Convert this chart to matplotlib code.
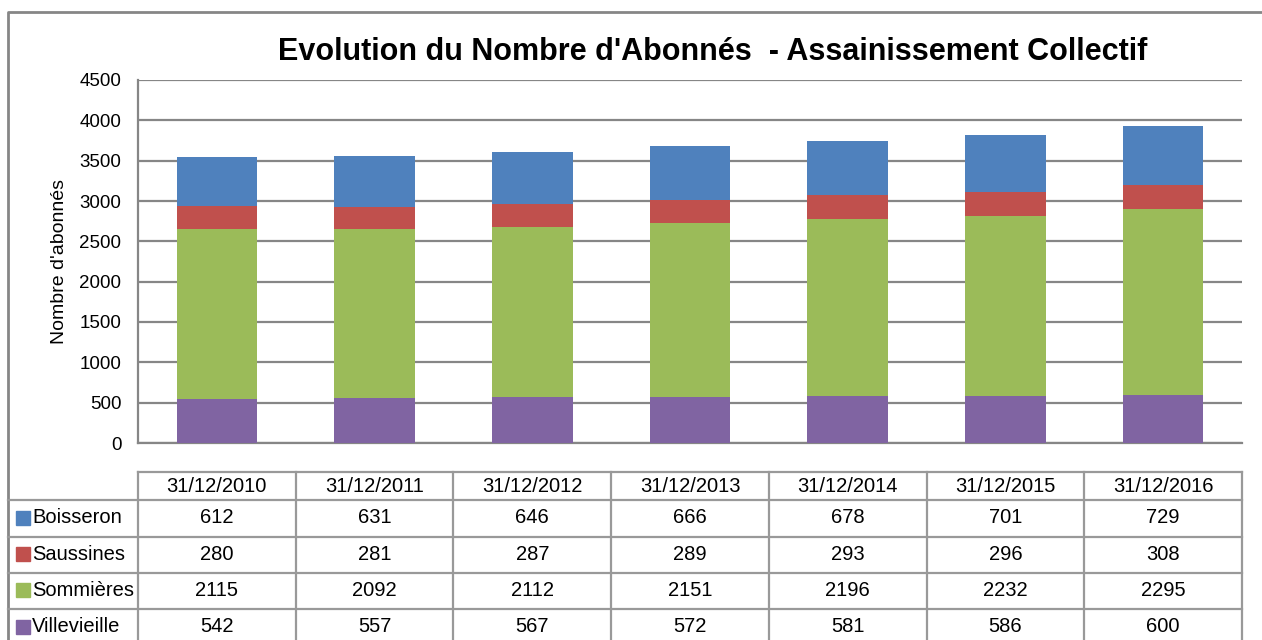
import matplotlib.pyplot as plt

dates = ['31/12/2010', '31/12/2011', '31/12/2012', '31/12/2013',
         '31/12/2014', '31/12/2015', '31/12/2016']
villevieille = [542, 557, 567, 572, 581, 586, 600]
sommieres = [2115, 2092, 2112, 2151, 2196, 2232, 2295]
saussines = [280, 281, 287, 289, 293, 296, 308]
boisseron = [612, 631, 646, 666, 678, 701, 729]

names = ['Boisseron', 'Saussines', 'Sommières', 'Villevieille']
colors = {'Boisseron': '#4F81BD', 'Saussines': '#C0504D',
          'Sommières': '#9BBB59', 'Villevieille': '#8064A2'}
series = {'Boisseron': boisseron, 'Saussines': saussines,
          'Sommières': sommieres, 'Villevieille': villevieille}

plt.rcParams['font.family'] = ['Liberation Sans', 'DejaVu Sans']

W, H = 1262, 640
fig = plt.figure(figsize=(W / 100, H / 100), dpi=100)


def box(x0, y0, x1, y1):
    # pixel box (top-left origin) -> figure fraction rect
    return [x0 / W, 1 - y1 / H, (x1 - x0) / W, (y1 - y0) / H]


grid_col = '#868686'

# Bar chart area
ax = fig.add_axes(box(138, 80, 1242, 443))
x = list(range(len(dates)))
bottom = [0] * len(dates)
for name in ['Villevieille', 'Sommières', 'Saussines', 'Boisseron']:
    ax.bar(x, series[name], width=0.51, bottom=bottom, color=colors[name],
           zorder=3)
    bottom = [b + v for b, v in zip(bottom, series[name])]

ax.set_xlim(-0.5, len(dates) - 0.5)
ax.set_ylim(0, 4500)
ax.set_yticks(range(0, 4501, 500))
ax.set_xticks([])
ax.yaxis.grid(True, color=grid_col, linewidth=1.6, zorder=0)
for side in ['top', 'right']:
    ax.spines[side].set_visible(False)
ax.spines['left'].set_color(grid_col)
ax.spines['left'].set_linewidth(1.6)
ax.spines['bottom'].set_color(grid_col)
ax.spines['bottom'].set_linewidth(1.6)
ax.tick_params(axis='y', length=0, pad=12, labelsize=13.5)
ax.set_ylabel("Nombre d'abonnés", fontsize=14)
ax.yaxis.set_label_coords(-0.063, 0.5)

# Overlay in pixel coordinates for frame, title and data table
ov = fig.add_axes([0, 0, 1, 1], zorder=-1)
ov.set_xlim(0, W)
ov.set_ylim(H, 0)
ov.axis('off')

# outer chart frame
ov.plot([8, 8, W], [H, 12, 12], color=grid_col, linewidth=2)

ov.text(713, 52, "Evolution du Nombre d'Abonnés  - Assainissement Collectif",
        ha='center', va='center', fontsize=22, fontweight='bold')

# data table
tab_col = '#999999'
col_edges = [138 + i * (1242 - 138) / len(dates) for i in range(len(dates) + 1)]
row_edges = [500, 537, 573, 609, 646]
ov.plot([138, 1242], [472, 472], color=tab_col, linewidth=1.6)
for y in row_edges[:-1]:
    ov.plot([8, 1242], [y, y], color=tab_col, linewidth=1.6)
for xe in col_edges:
    ov.plot([xe, xe], [472, H], color=tab_col, linewidth=1.6)

fs = 14.5
for i, d in enumerate(dates):
    cx = (col_edges[i] + col_edges[i + 1]) / 2
    ov.text(cx, 487, d, ha='center', va='center', fontsize=fs)

for r, name in enumerate(names):
    cy = (row_edges[r] + row_edges[r + 1]) / 2 - 1
    ov.add_patch(plt.Rectangle((16, cy - 7), 14, 14, color=colors[name]))
    ov.text(32, cy, name, ha='left', va='center', fontsize=fs)
    for i, v in enumerate(series[name]):
        cx = (col_edges[i] + col_edges[i + 1]) / 2
        ov.text(cx, cy, str(v), ha='center', va='center', fontsize=fs)

fig.savefig('out.png', dpi=100)
